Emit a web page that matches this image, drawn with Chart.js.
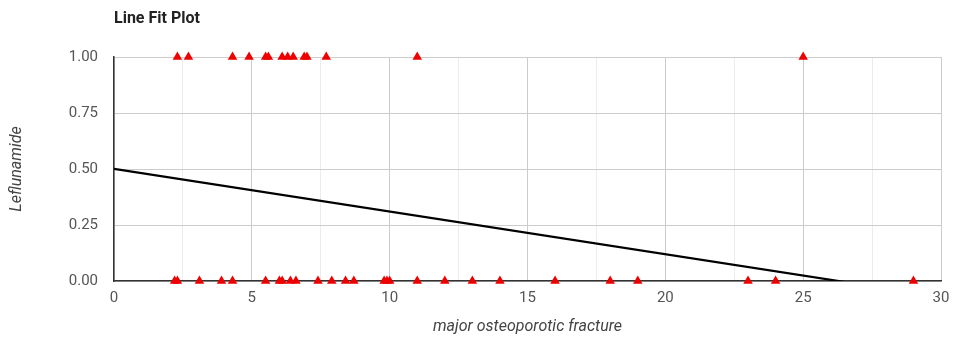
<!DOCTYPE html>
<html>
<head>
<meta charset="utf-8">
<script src="https://cdn.jsdelivr.net/npm/chart.js@4"></script>
<style>
html,body{margin:0;padding:0;background:#fff;}
#wrap{width:953px;height:337px;position:relative;}
</style>
</head>
<body>
<div id="wrap"><canvas id="c" width="953" height="337"></canvas></div>
<script>
// Data
const fractureLeflunamideYes = [2.3, 2.7, 4.3, 4.9, 5.5, 5.6, 6.1, 6.3, 6.5, 6.9, 7.0, 7.7, 11, 25];
const fractureLeflunamideNo = [2.2, 2.3, 3.1, 3.9, 4.3, 5.5, 6.0, 6.1, 6.4, 6.6, 7.4, 7.9, 8.4, 8.7, 9.8, 9.9, 10.0, 11, 12, 13, 14, 16, 18, 19, 23, 24, 29];
const fitX = [0, 30];
const fitY = [0.501, -0.071];
const yTicks = [0, 0.25, 0.5, 0.75, 1];
const xTicks = [0, 5, 10, 15, 20, 25, 30];

const font = "Roboto, 'Liberation Sans', Arial, sans-serif";

new Chart(document.getElementById('c'), {
  type: 'scatter',
  data: {
    datasets: [
      {
        label: 'Leflunamide = 1',
        data: fractureLeflunamideYes.map(v => ({x: v, y: 1})),
        pointStyle: 'triangle',
        pointRadius: 5.5,
        pointHoverRadius: 5.5,
        backgroundColor: '#ee0000',
        borderColor: '#ee0000',
        borderWidth: 0,
        clip: false
      },
      {
        label: 'Leflunamide = 0',
        data: fractureLeflunamideNo.map(v => ({x: v, y: 0})),
        pointStyle: 'triangle',
        pointRadius: 5.5,
        pointHoverRadius: 5.5,
        backgroundColor: '#ee0000',
        borderColor: '#ee0000',
        borderWidth: 0,
        clip: false
      },
      {
        label: 'Fit',
        data: fitX.map((x, i) => ({x: x, y: fitY[i]})),
        showLine: true,
        pointRadius: 0,
        borderColor: '#000',
        borderWidth: 2.2,
        fill: false
      }
    ]
  },
  options: {
    responsive: false,
    animation: false,
    layout: {padding: {left: 0, right: 0, top: 0, bottom: 0}},
    plugins: {
      legend: {display: false},
      tooltip: {enabled: false},
      title: {
        display: true,
        text: 'Line Fit Plot',
        align: 'start',
        fullSize: false,
        color: '#222',
        font: {family: font, size: 16, weight: 'bold'},
        padding: {top: 9.4, bottom: 28.4}
      }
    },
    scales: {
      x: {
        type: 'linear',
        min: 0,
        max: 30,
        afterBuildTicks: s => {
          const t = [];
          for (let v = 0; v <= 30; v += 2.5) t.push({value: v});
          s.ticks = t;
        },
        afterFit: s => { s.height = 56; s.paddingRight = 12; s.paddingLeft = 0; },
        border: {display: true, color: '#333', width: 1.5},
        grid: {
          drawTicks: false,
          color: ctx => (ctx.tick && ctx.tick.value % 5 === 0) ? '#cccccc' : '#ececec',
          lineWidth: 1
        },
        ticks: {
          padding: 8,
          color: '#555',
          font: {family: font, size: 15},
          autoSkip: false,
          maxRotation: 0,
          callback: v => xTicks.includes(v) ? String(v) : ''
        },
        title: {
          display: true,
          text: 'major osteoporotic fracture',
          color: '#444',
          font: {family: font, size: 16, style: 'italic'},
          padding: {top: 0, bottom: 0}
        }
      },
      y: {
        type: 'linear',
        min: 0,
        max: 1,
        afterBuildTicks: s => { s.ticks = yTicks.map(v => ({value: v})); },
        afterFit: s => { s.width = 114; },
        border: {display: true, color: '#333', width: 1.5},
        grid: {drawTicks: false, color: '#cccccc', lineWidth: 1},
        ticks: {
          padding: 16,
          color: '#555',
          font: {family: font, size: 15},
          callback: v => Number(v).toFixed(2)
        },
        title: {
          display: true,
          text: 'Leflunamide',
          color: '#444',
          font: {family: font, size: 16, style: 'italic'},
          padding: {top: 7.4, bottom: 0}
        }
      }
    }
  }
});
</script>
</body>
</html>
